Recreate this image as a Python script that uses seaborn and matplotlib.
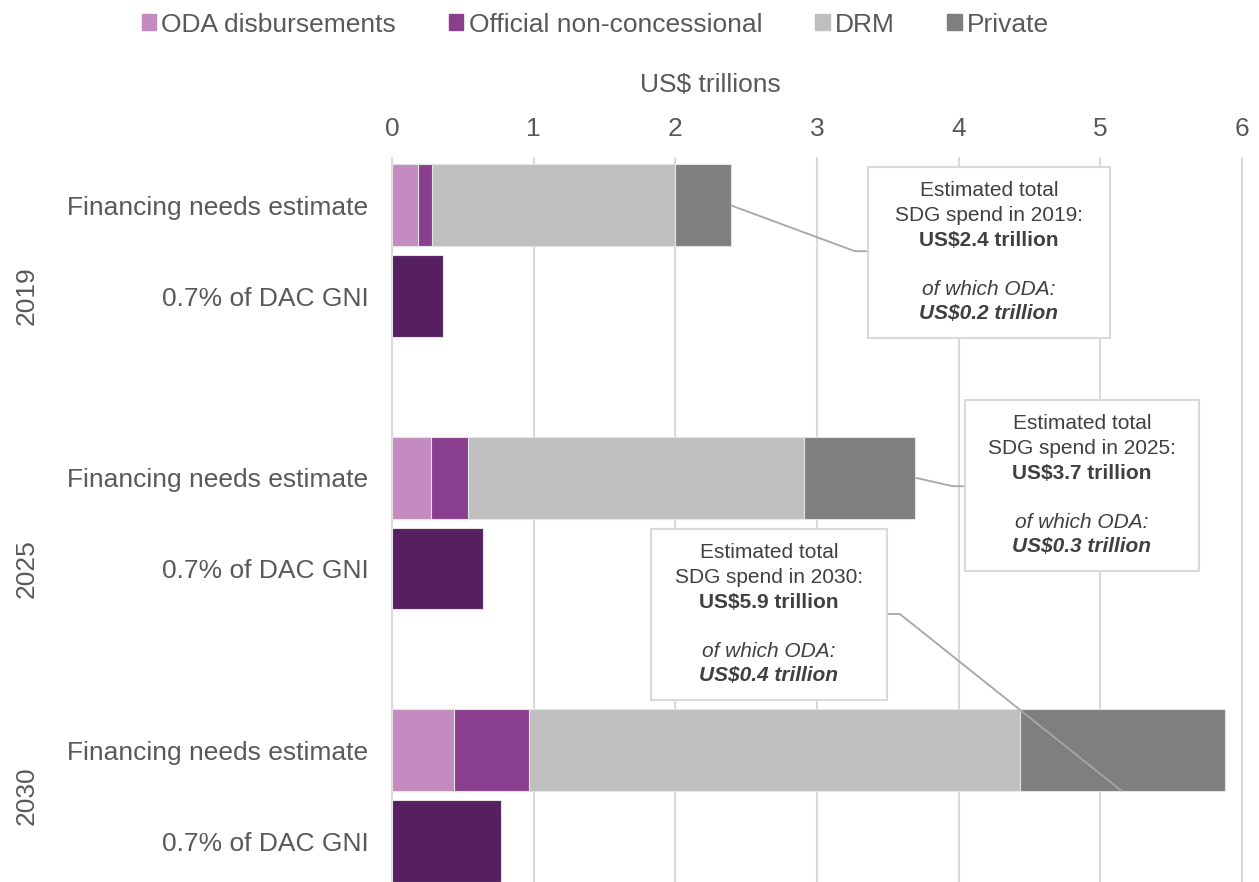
import matplotlib.pyplot as plt
import matplotlib.patches as mpatches
import pandas as pd
import seaborn as sns

# %%
years = ["2019", "2025", "2030"]
row_labels = ["Financing needs estimate", "0.7% of DAC GNI"]
components = ["ODA disbursements", "Official non-concessional", "DRM", "Private"]
oda = [0.18, 0.275, 0.44]
official_nc = [0.10, 0.26, 0.53]
drm = [1.715, 2.37, 3.46]
private = [0.395, 0.79, 1.45]
gni_07 = [0.36, 0.64, 0.77]
total_spend = [2.4, 3.7, 5.9]
oda_spend = [0.2, 0.3, 0.4]

colors = ["#c38bbf", "#893f8d", "#bfbfbf", "#7f7f7f"]
gni_color = "#561f60"
text_grey = "#595959"
box_text = "#404040"

# %%
fin = pd.DataFrame({
    "year": years,
    components[0]: oda,
    components[1]: official_nc,
    components[2]: drm,
    components[3]: private,
})
fin["row"] = fin["year"] + "|fin"
cum = fin[components].cumsum(axis=1)
cum["row"] = fin["row"]

gni = pd.DataFrame({"year": years, "value": gni_07})
gni["row"] = gni["year"] + "|gni"

order = []
tick_labels = []
for i, y in enumerate(years):
    order += [f"{y}|fin", f"{y}|gni"]
    tick_labels += row_labels
    if i < len(years) - 1:
        order.append(f"{y}|gap")
        tick_labels.append("")

# %%
sns.set_theme(style="white")
plt.rcParams["font.family"] = ["Liberation Sans", "DejaVu Sans"]

fig = plt.figure(figsize=(12.59, 8.82), dpi=100)
ax = fig.add_axes([392 / 1259, 0, 850 / 1259, 724 / 882])

# stacked bars drawn as layered cumulative totals
for comp, col in zip(reversed(components), reversed(colors)):
    sns.barplot(data=cum, x=comp, y="row", order=order, orient="h", color=col,
                saturation=1, width=0.9, errorbar=None, edgecolor="#e4e4e4",
                linewidth=0.8, ax=ax, zorder=2)
sns.barplot(data=gni, x="value", y="row", order=order, orient="h", color=gni_color,
            saturation=1, width=0.9, errorbar=None, edgecolor="#e4e4e4",
            linewidth=0.8, ax=ax, zorder=2)

ax.set_xlim(0, 6)
ax.set_ylim(7.45, -0.52)
ax.set_xticks(range(7))
ax.set_yticks(range(len(order)))
ax.set_yticklabels(tick_labels)
ax.xaxis.tick_top()
ax.tick_params(axis="x", length=0, pad=12, labelsize=19, labelcolor=text_grey)
ax.tick_params(axis="y", length=0, pad=17, labelsize=19, labelcolor=text_grey)
ax.set_xlabel("")
ax.set_ylabel("")
ax.grid(axis="x", color="#d9d9d9", linewidth=1.5)
ax.grid(axis="y", visible=False)
ax.set_axisbelow(True)
for gl in ax.xaxis.get_gridlines():
    gl.set_clip_on(False)
for s in ax.spines.values():
    s.set_visible(False)

ax.text(0.375, 1.1008, "US$ trillions", transform=ax.transAxes, ha="center",
        va="center", fontsize=19, color=text_grey)

# year group labels
year_pos = [1.0, 4.0, 6.5]
for y, pos in zip(years, year_pos):
    ax.text(-0.43, pos, y, transform=ax.get_yaxis_transform(), rotation=90,
            ha="center", va="center", fontsize=19, color=text_grey)

# %%
# callout boxes: (x0, x1, y0) in data units
boxes = [(3.359, 5.067, -0.418), (4.044, 5.695, 2.146), (1.828, 3.493, 3.566)]
box_h = 1.882
line_off = [0.253, 0.528, 0.803, 1.343, 1.607]
for (x0, x1, y0), yr, tot, od in zip(boxes, years, total_spend, oda_spend):
    ax.add_patch(mpatches.Rectangle((x0, y0), x1 - x0, box_h, facecolor="white",
                                    edgecolor="#d9d9d9", linewidth=1.5, zorder=4))
    xc = (x0 + x1) / 2
    lines = [
        ("Estimated total", "normal", "normal"),
        (f"SDG spend in {yr}:", "normal", "normal"),
        (f"US${tot:.1f} trillion", "bold", "normal"),
        ("of which ODA:", "normal", "italic"),
        (f"US${od:.1f} trillion", "bold", "italic"),
    ]
    for (txt, w, st), off in zip(lines, line_off):
        ax.text(xc, y0 + off, txt, ha="center", va="center", fontsize=15,
                fontweight=w, fontstyle=st, color=box_text, zorder=5)

# connector lines
bar_ends = cum["Private"].tolist()
conn_kw = dict(color="#a6a6a6", linewidth=1.3, zorder=3, solid_capstyle="butt")
ax.plot([bar_ends[0], 3.267, 3.359], [0, 0.506, 0.506], **conn_kw)
ax.plot([bar_ends[1], 3.959, 4.044], [3, 3.093, 3.093], **conn_kw)
ax.plot([3.493, 3.585, 5.152], [4.50, 4.50, 6.45], **conn_kw)

# legend
handles = [mpatches.Patch(color=c, label=l) for c, l in zip(colors, components)]
leg = fig.legend(handles=handles, loc="center", bbox_to_anchor=(0.473, 0.972), ncol=4,
                 frameon=False, fontsize=19, handlelength=0.55, handleheight=0.55,
                 handletextpad=0.2, columnspacing=2.0, labelcolor=text_grey)

fig.savefig("out.png", dpi=100)
